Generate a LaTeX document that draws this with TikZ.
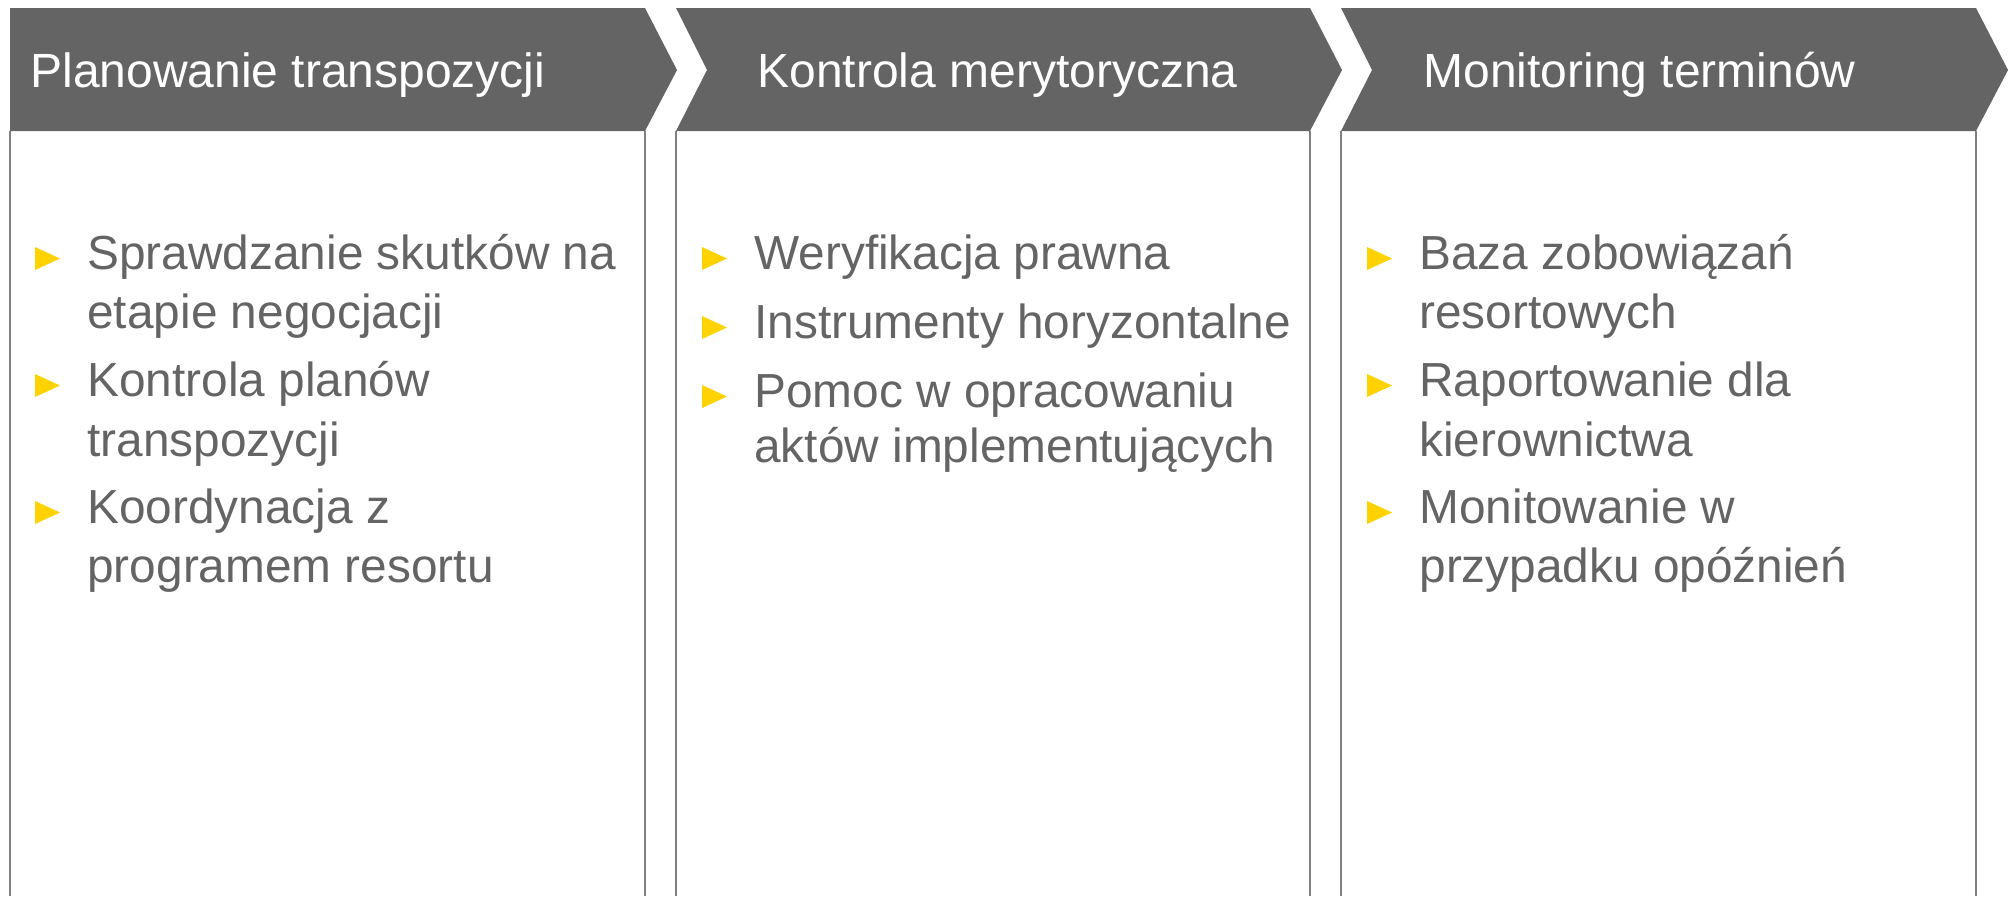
\documentclass[tikz,border=0pt]{standalone}
\usepackage{fontspec}
\setmainfont{Liberation Sans}
\definecolor{headc}{HTML}{646464}
\definecolor{txtc}{HTML}{646464}
\definecolor{bordc}{HTML}{7F7F7F}
\definecolor{bulc}{HTML}{FFD200}
\newcommand{\bul}[2]{\fill[bulc] ({#1},{#2-22}) -- ({#1+25},{#2-10.5}) -- ({#1},{#2+1}) -- cycle;}
\begin{document}
\begin{tikzpicture}[x=0.5pt,y=-0.5pt,
  headtxt/.style={anchor=base west,inner sep=0pt,text=white,font=\fontsize{24pt}{28pt}\selectfont},
  bodytxt/.style={anchor=base west,inner sep=0pt,text=txtc,font=\fontsize{23.9pt}{28pt}\selectfont},
  bord/.style={draw=bordc,line width=0.75pt},
  headfill/.style={fill=headc}]
\useasboundingbox (0,0) rectangle (2011,896);
% body borders
\draw[bord] (10,131) -- (10,896);
\draw[bord] (645,131) -- (645,896);
\draw[bord] (676,131) -- (676,896);
\draw[bord] (1310,131) -- (1310,896);
\draw[bord] (1341,131) -- (1341,896);
\draw[bord] (1976,131) -- (1976,896);
% headers
\fill[headfill] (10,8) -- (645,8) -- (677,70) -- (645,131) -- (10,131) -- cycle;
\fill[headfill] (676,8) -- (1310,8) -- (1342,70) -- (1310,131) -- (676,131) -- (707,70) -- cycle;
\fill[headfill] (1341,8) -- (1976,8) -- (2008,70) -- (1976,131) -- (1341,131) -- (1372,70) -- cycle;
\node[headtxt] (h1) at (30,87) {Planowanie transpozycji};
\node[headtxt] (h2) at (757,87) {Kontrola merytoryczna};
\node[headtxt] (h3) at (1423,87) {Monitoring terminów};
% panel 1
\bul{35}{269}\bul{35}{396}\bul{35}{523}
\node[bodytxt] (a1) at (87,269) {Sprawdzanie skutków na};
\node[bodytxt] (a2) at (87,328) {etapie negocjacji};
\node[bodytxt] (a3) at (87,396) {Kontrola planów};
\node[bodytxt] (a4) at (87,456) {transpozycji};
\node[bodytxt] (a5) at (87,523) {Koordynacja z};
\node[bodytxt] (a6) at (87,582) {programem resortu};
% panel 2
\bul{702}{269}\bul{702}{338}\bul{702}{407}
\node[bodytxt] (b1) at (754,269) {Weryfikacja prawna};
\node[bodytxt] (b2) at (754,338) {Instrumenty horyzontalne};
\node[bodytxt] (b3) at (754,407) {Pomoc w opracowaniu};
\node[bodytxt] (b4) at (754,462) {aktów implementujących};
% panel 3
\bul{1367}{269}\bul{1367}{396}\bul{1367}{523}
\node[bodytxt] (c1) at (1419,269) {Baza zobowiązań};
\node[bodytxt] (c2) at (1419,328) {resortowych};
\node[bodytxt] (c3) at (1419,396) {Raportowanie dla};
\node[bodytxt] (c4) at (1419,456) {kierownictwa};
\node[bodytxt] (c5) at (1419,523) {Monitowanie w};
\node[bodytxt] (c6) at (1419,582) {przypadku opóźnień};
\end{tikzpicture}
\end{document}
